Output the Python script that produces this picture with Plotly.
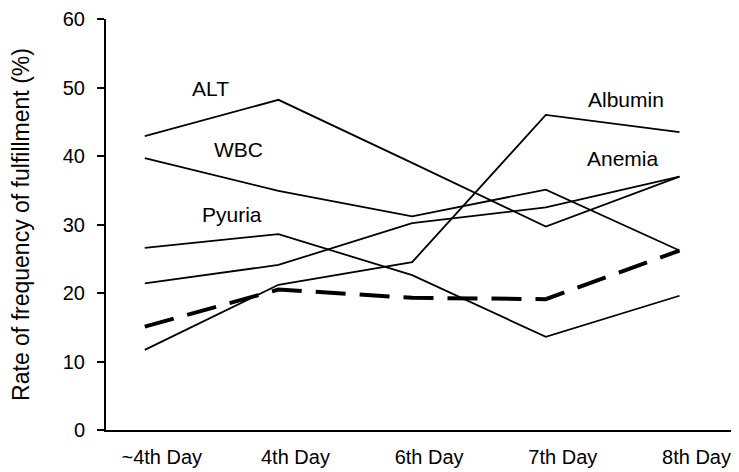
import plotly.graph_objects as go

days = ["~4th Day", "4th Day", "6th Day", "7th Day", "8th Day"]

alt = [42.9, 48.2, 39.0, 29.7, 37.0]
wbc = [39.7, 34.9, 31.2, 35.1, 26.2]
pyuria = [26.6, 28.6, 22.6, 13.6, 19.6]
anemia = [21.4, 24.1, 30.2, 32.5, 37.0]
albumin = [11.7, 21.2, 24.5, 46.0, 43.5]
overall = [15.1, 20.5, 19.3, 19.1, 26.2]

y_ticks = [0, 10, 20, 30, 40, 50, 60]

label_names = ["ALT", "WBC", "Pyuria", "Albumin", "Anemia"]
label_x = [0.49, 0.70, 0.65, 3.60, 3.58]
label_y = [49.9, 41.0, 31.4, 48.3, 39.7]

fig = go.Figure()
for name, vals in [("ALT", alt), ("WBC", wbc), ("Pyuria", pyuria),
                   ("Anemia", anemia), ("Albumin", albumin)]:
    fig.add_trace(go.Scatter(x=days, y=vals, mode="lines", name=name,
                             line=dict(color="black", width=1.8)))
fig.add_trace(go.Scatter(x=days, y=overall, mode="lines", name="Overall",
                         line=dict(color="black", width=4, dash="30px,14px")))

for t, xx, yy in zip(label_names, label_x, label_y):
    fig.add_annotation(x=xx, y=yy, xref="x", yref="y", text=t, showarrow=False,
                       xanchor="center", yanchor="middle",
                       font=dict(family="Liberation Sans, Arial", size=21, color="black"))

fig.update_layout(
    width=739, height=472,
    margin=dict(l=98, r=2, t=11, b=50),
    plot_bgcolor="white", paper_bgcolor="white",
    showlegend=False,
    font=dict(family="Liberation Sans, Arial, sans-serif", size=20, color="black"),
)
fig.update_xaxes(type="category", range=[-0.29, 4.49], showgrid=False, zeroline=False,
                 automargin=False,
                 showline=True, linecolor="black", linewidth=2, ticks="",
                 ticklabelshift=17, ticklabelstandoff=8, tickfont=dict(size=20))
fig.update_yaxes(range=[0, 60], tickvals=y_ticks, showgrid=False, zeroline=False,
                 automargin=False,
                 showline=True, linecolor="black", linewidth=2, ticks="outside",
                 ticklen=7, tickwidth=1.5, tickcolor="black", tickfont=dict(size=20),
                 ticklabelstandoff=8,
                 title=dict(text="Rate of frequency of fulfillment (%)", font=dict(size=23),
                            standoff=30))

fig.write_html("out.html")
